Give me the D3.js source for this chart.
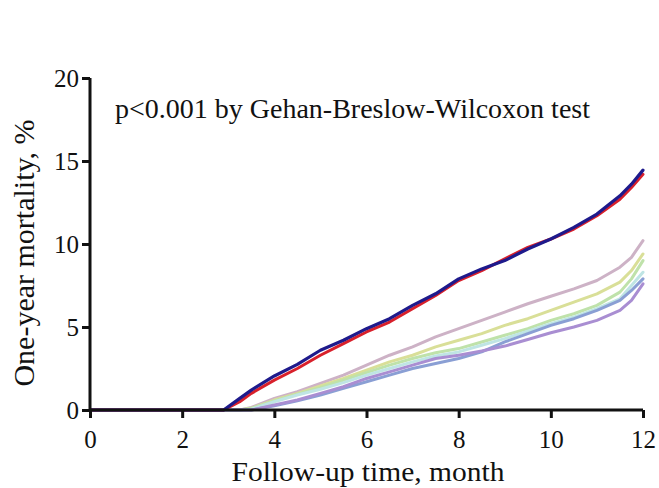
<!DOCTYPE html>
<html>
<head>
<meta charset="utf-8">
<script src="https://cdn.jsdelivr.net/npm/d3@7"></script>
</head>
<body style="margin:0; background:#fff">
<div id="chart"></div>
<script>
// Follow-up time grid, months
const months = [0, 2.9, 3.25, 3.5, 4, 4.5, 5, 5.5, 6, 6.5, 7, 7.5, 8, 8.5, 9, 9.5, 10, 10.5, 11, 11.5, 11.75, 12];

// Cumulative one-year mortality (%) per group
const pinkGroup   = [0, 0, 0, 0.15, 0.7, 1.1, 1.6, 2.1, 2.7, 3.3, 3.8, 4.4, 4.9, 5.4, 5.9, 6.4, 6.85, 7.3, 7.8, 8.6, 9.2, 10.2];
const yellowGroup = [0, 0, 0, 0.1, 0.6, 1.0, 1.45, 1.9, 2.4, 2.9, 3.3, 3.8, 4.2, 4.6, 5.1, 5.5, 6.0, 6.5, 7.0, 7.7, 8.4, 9.4];
const greenGroup  = [0, 0, 0, 0.1, 0.55, 0.95, 1.35, 1.8, 2.25, 2.7, 3.1, 3.45, 3.7, 4.1, 4.5, 4.9, 5.4, 5.8, 6.3, 7.1, 7.9, 9.0];
const cyanGroup   = [0, 0, 0, 0.05, 0.5, 0.9, 1.25, 1.65, 2.1, 2.5, 2.9, 3.25, 3.5, 3.9, 4.3, 4.75, 5.2, 5.6, 6.1, 6.7, 7.5, 8.3];
const steelGroup  = [0, 0, 0, 0, 0.25, 0.55, 0.9, 1.3, 1.7, 2.1, 2.5, 2.8, 3.1, 3.5, 4.1, 4.6, 5.1, 5.5, 6.0, 6.6, 7.2, 7.9];
const purpleGroup = [0, 0, 0, 0, 0.3, 0.6, 1.0, 1.4, 1.9, 2.3, 2.7, 3.1, 3.3, 3.55, 3.85, 4.25, 4.65, 5.0, 5.4, 6.0, 6.6, 7.6];
const redGroup    = [0, 0, 0.5, 1.0, 1.8, 2.5, 3.3, 4.0, 4.7, 5.3, 6.1, 6.9, 7.8, 8.4, 9.1, 9.8, 10.3, 10.9, 11.7, 12.7, 13.4, 14.2];
const navyGroup   = [0, 0, 0.7, 1.2, 2.05, 2.75, 3.6, 4.2, 4.9, 5.5, 6.3, 7.0, 7.9, 8.5, 9.0, 9.7, 10.3, 11.0, 11.8, 12.9, 13.6, 14.45];

const xTicks = [0, 2, 4, 6, 8, 10, 12];
const yTicks = [0, 5, 10, 15, 20];

const series = [
  { values: pinkGroup,   color: "#cdb2c6", width: 3 },
  { values: yellowGroup, color: "#d9df98", width: 3 },
  { values: greenGroup,  color: "#bfe2aa", width: 3 },
  { values: cyanGroup,   color: "#bfe5e4", width: 3 },
  { values: steelGroup,  color: "#8a9fd4", width: 3 },
  { values: purpleGroup, color: "#a98ed2", width: 3 },
  { values: redGroup,    color: "#d8202b", width: 3 },
  { values: navyGroup,   color: "#1e1a8c", width: 3.2 }
];

const W = 659, H = 488;
const margin = { left: 90, right: 16, top: 78, bottom: 78 };
const serif = '"Liberation Serif"';

const svg = d3.select("#chart").append("svg")
  .attr("width", W).attr("height", H)
  .style("display", "block");

const x = d3.scaleLinear().domain([0, 12]).range([margin.left, W - margin.right]);
const y = d3.scaleLinear().domain([0, 20]).range([H - margin.bottom, margin.top]);

// Cumulative mortality curves
const line = d3.line()
  .x((d, i) => x(months[i]))
  .y(d => y(d));

svg.append("g").selectAll("path")
  .data(series)
  .join("path")
  .attr("fill", "none")
  .attr("stroke", s => s.color)
  .attr("stroke-width", s => s.width)
  .attr("stroke-linejoin", "round")
  .attr("stroke-linecap", "round")
  .attr("d", s => line(s.values));

// Axes
const xAxis = svg.append("g")
  .attr("transform", `translate(0,${y(0)})`)
  .call(d3.axisBottom(x).tickValues(xTicks).tickSize(8).tickPadding(12).tickFormat(d3.format("d")));
const yAxis = svg.append("g")
  .attr("transform", `translate(${x(0)},0)`)
  .call(d3.axisLeft(y).tickValues(yTicks).tickSize(8).tickPadding(3).tickFormat(d3.format("d")));

[xAxis, yAxis].forEach(g => {
  g.select(".domain").attr("stroke", "#111").attr("stroke-width", 3);
  g.selectAll(".tick line").attr("stroke", "#111").attr("stroke-width", 3);
  g.selectAll(".tick text")
    .attr("fill", "#111")
    .style("font-family", serif)
    .style("font-size", "25px");
});
xAxis.select(".domain").attr("d", `M${x(0)},0H${x(12)}`);
yAxis.select(".domain").attr("d", `M0,${y(0)}V${y(20)}`);

// Axis titles
svg.append("text")
  .attr("x", 368).attr("y", 481)
  .attr("text-anchor", "middle")
  .attr("fill", "#111")
  .attr("textLength", 273)
  .attr("lengthAdjust", "spacingAndGlyphs")
  .style("font-family", serif)
  .style("font-size", "28px")
  .text("Follow-up time, month");

svg.append("text")
  .attr("transform", `translate(34,253) rotate(-90)`)
  .attr("text-anchor", "middle")
  .attr("fill", "#111")
  .style("font-family", serif)
  .style("font-size", "30px")
  .text("One-year mortality, %");

// Test annotation
svg.append("text")
  .attr("x", 115).attr("y", 118)
  .attr("fill", "#111")
  .attr("textLength", 475)
  .attr("lengthAdjust", "spacingAndGlyphs")
  .style("font-family", serif)
  .style("font-size", "27px")
  .text("p<0.001 by Gehan-Breslow-Wilcoxon test");
</script>
</body>
</html>
